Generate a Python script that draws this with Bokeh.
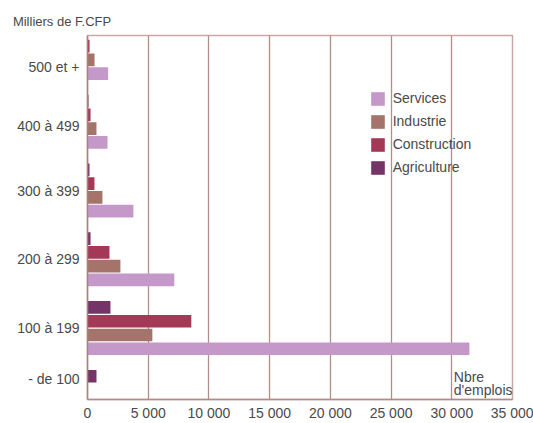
from bokeh.plotting import figure
from bokeh.models import Range1d, FixedTicker, Label, Legend, LegendItem, ColumnDataSource
from bokeh.embed import file_html
from bokeh.resources import INLINE

# ---- data (top to bottom) ----
categories = ["500 et +", "400 à 499", "300 à 399", "200 à 299", "100 à 199", "- de 100"]
services = [1700, 1650, 3780, 7150, 31450, 0]
industrie = [580, 740, 1230, 2710, 5340, 0]
construction = [170, 250, 575, 1810, 8550, 0]
agriculture = [0, 80, 165, 250, 1890, 740]
x_ticks = [0, 5000, 10000, 15000, 20000, 25000, 30000, 35000]
x_tick_labels = ["0", "5 000", "10 000", "15 000", "20 000", "25 000", "30 000", "35 000"]

FONT = "Liberation Sans"
TXT = "#4a4a4a"

n = len(categories)
centers = [n - 1 - i for i in range(n)]  # 500 et + at top

p = figure(width=533, height=423, output_backend="svg", toolbar_location=None,
           x_range=Range1d(0, 35000), y_range=Range1d(-0.039, 5.254),
           min_border_left=87, min_border_right=21, min_border_top=35, min_border_bottom=21)

p.background_fill_color = "white"
p.border_fill_color = "white"
p.outline_line_color = "#c9a8a4"
p.outline_line_width = 1.5

series = [("Services", services, "#c499c9", -0.3),
          ("Industrie", industrie, "#a4746b", -0.1),
          ("Construction", construction, "#a43957", 0.1),
          ("Agriculture", agriculture, "#743468", 0.3)]

renderers = {}
for name, vals, col, off in series:
    src = ColumnDataSource(dict(y=[c + off for c in centers], right=vals))
    r = p.hbar(y="y", left=0, right="right", height=0.183, source=src,
               fill_color=col, line_color=None)
    renderers[name] = r

# axes
for ax in (p.xaxis, p.yaxis):
    ax.major_tick_line_color = None
    ax.minor_tick_line_color = None
    ax.major_tick_out = 0
    ax.major_tick_in = 0
    ax.minor_tick_out = 0
    ax.minor_tick_in = 0
    ax.major_label_text_font = FONT
    ax.major_label_text_font_size = "14px"
    ax.major_label_text_color = TXT

p.xaxis.ticker = FixedTicker(ticks=x_ticks)
p.xaxis.major_label_overrides = {t: l for t, l in zip(x_ticks, x_tick_labels)}
p.xaxis.axis_line_color = "#b08c87"
p.xaxis.axis_line_width = 1.5
p.xaxis.major_label_standoff = 5

label_pos = [4.803, 3.932, 3.0, 2.0, 1.0, 0.256]
p.yaxis.ticker = FixedTicker(ticks=label_pos)
p.yaxis.major_label_overrides = {t: l for t, l in zip(label_pos, categories)}
p.yaxis.axis_line_color = "#a98580"
p.yaxis.axis_line_width = 1.5
p.yaxis.major_label_standoff = 8

p.ygrid.grid_line_color = None
p.xgrid.grid_line_color = "#b38d88"
p.xgrid.grid_line_width = 1.3

# title
p.title.text = "Milliers de F.CFP"
p.title.align = "left"
p.title.offset = -74.6
p.title.text_font = FONT
p.title.text_font_size = "13px"
p.title.text_font_style = "normal"
p.title.text_color = TXT
p.title.standoff = 13

# axis unit label
for txt, yy in [("Nbre", 0.288), ("d'emplois", 0.095)]:
    p.add_layout(Label(x=30000, y=yy, x_offset=2, text=txt, text_font=FONT,
                       text_font_size="14px", text_color=TXT,
                       text_baseline="alphabetic", text_align="left"))

legend = Legend(items=[LegendItem(label=name, renderers=[renderers[name]]) for name, *_ in series],
                location=(281.7, 223.5), orientation="vertical",
                background_fill_alpha=0, border_line_alpha=0,
                padding=0, margin=0, spacing=6,
                glyph_width=17, glyph_height=17, label_height=17, label_standoff=7,
                label_text_font=FONT, label_text_font_size="14px", label_text_color=TXT)
p.add_layout(legend)

open("out.html", "w").write(file_html(p, INLINE))
